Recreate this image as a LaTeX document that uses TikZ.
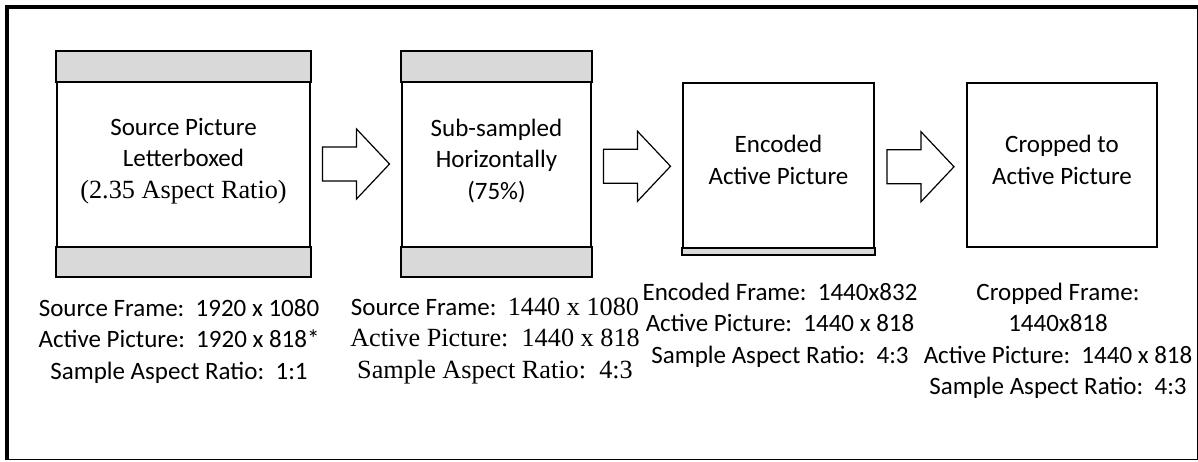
\documentclass[tikz,border=0pt]{standalone}
\usepackage{fontspec}
\setmainfont{Carlito}
\newfontfamily\cam{Liberation Serif}[Scale=1.05]
\usetikzlibrary{calc}
\definecolor{bandgray}{HTML}{D9D9D9}
\tikzset{
  box/.style={draw, line width=1pt, fill=white, inner sep=0pt},
  bandst/.style={draw, line width=1pt, fill=bandgray},
  arrowline/.style={draw, line width=0.6pt, fill=white, line join=miter},
  txt/.style={align=center, font=\fontsize{12.5}{15.75}\selectfont, inner sep=0pt},
  blockarrow/.pic={\draw[arrowline] (-33.5,-17) -- (0.5,-17) -- (0.5,-35) -- (33.5,0) -- (0.5,35) -- (0.5,17) -- (-33.5,17) -- cycle;}
}
\begin{document}
\begin{tikzpicture}[x=0.5pt,y=-0.5pt]
\useasboundingbox (0,0) rectangle (1198,461);
% outer frame
\draw[line width=0.5pt] (7,459) -- (1197,459) -- (1197,7);
\draw[line width=2pt] (7,460) -- (7,7) -- (1197.5,7);
% boxes
\node[box, minimum width=126.5pt, minimum height=112pt] (b1) at (183.5,164) {};
\draw[bandst] (b1.north west) rectangle ($(b1.north east)+(0,31)$);
\draw[bandst] (b1.south west) rectangle ($(b1.south east)+(0,-30)$);
\node[box, minimum width=94.5pt, minimum height=112pt] (b2) at (496.5,164) {};
\draw[bandst] (b2.north west) rectangle ($(b2.north east)+(0,31)$);
\draw[bandst] (b2.south west) rectangle ($(b2.south east)+(0,-30)$);
\node[box, minimum width=95.5pt, minimum height=85.5pt] (b3) at (778.5,168.5) {};
\draw[bandst] (b3.south west) rectangle ($(b3.south east)+(0,-7)$);
\node[box, minimum width=95pt, minimum height=82pt] (b4) at (1062,165) {};
% box texts
\node[txt] (t1) at (183.5,161) {Source Picture\\Letterboxed\\{\cam(2.35 Aspect Ratio)}};
\node[txt] (t2) at (496.5,161) {Sub-sampled\\Horizontally\\(75\%)};
\node[txt] (t3) at (778.5,160) {Encoded\\Active Picture};
\node[txt] (t4) at (1062,160) {Cropped to\\Active Picture};
% arrows
\pic at ($(b1.east)!0.5!(b2.west)$) {blockarrow};
\pic at ($(b2.east)!0.5!(b3.west)$) {blockarrow};
\pic at ($(b3.east)!0.5!(b4.west)$) {blockarrow};
% labels
\node[txt] (l1) at (179,341) {Source Frame:~~1920 x 1080\\Active Picture:~~1920 x 818*\\Sample Aspect Ratio:~~1:1};
\node[txt] (l2) at (495,341) {Source Frame:~~{\cam 1440 x 1080}\\{\cam Active Picture:~~1440 x 818}\\{\cam Sample Aspect Ratio:~~4:3}};
\node[txt] (l3) at (780,325) {Encoded Frame:~~1440x832\\Active Picture:~~1440 x 818\\Sample Aspect Ratio:~~4:3};
\node[txt] (l4) at (1058,341) {Cropped Frame:\\1440x818\\Active Picture:~~1440 x 818\\Sample Aspect Ratio:~~4:3};
\end{tikzpicture}
\end{document}
